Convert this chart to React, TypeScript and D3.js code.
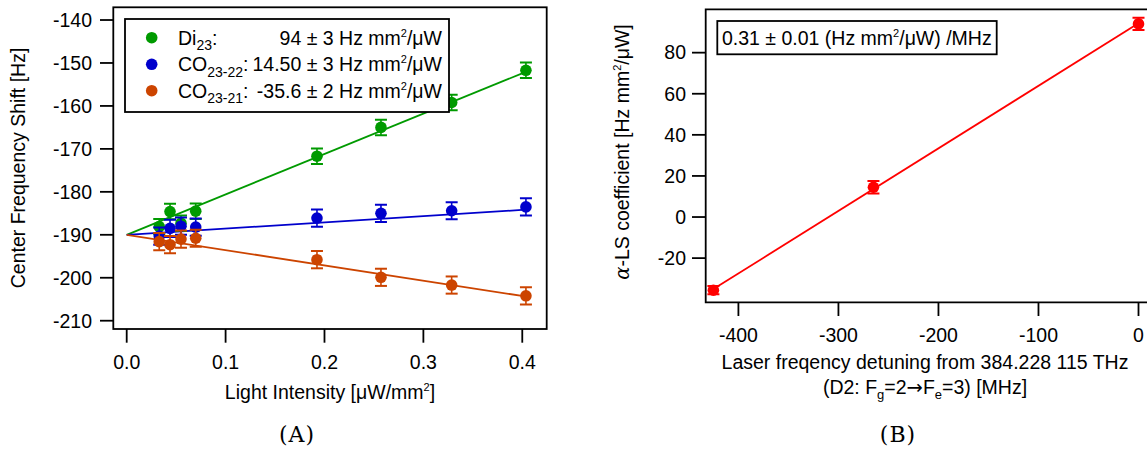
import React from "react";
import * as d3 from "d3";

// ---------- Panel A data ----------
const intensity = [0.0329, 0.0438, 0.0549, 0.0698, 0.1924, 0.2571, 0.3286, 0.4037];
const di23 = [-188.1, -184.6, -187.3, -184.5, -171.7, -165.0, -159.2, -151.7];
const di23Err = [1.8, 1.8, 1.8, 1.8, 1.8, 1.8, 1.8, 1.8];
const co2322 = [-190.3, -188.5, -188.0, -188.2, -186.1, -185.0, -184.4, -183.5];
const co2322Err = [2, 2, 2, 2, 2, 2, 2, 2];
const co2321 = [-191.6, -192.3, -191.0, -190.8, -195.8, -199.9, -201.7, -204.2];
const co2321Err = [2, 2, 2, 2, 2, 2, 2, 2];
const fitIntercept = -190;
const fitSlopes = [94, 14.5, -35.6];
const fitRange = [0, 0.403];
const xTicksA = [0, 0.1, 0.2, 0.3, 0.4];
const yTicksA = [-210, -200, -190, -180, -170, -160, -150, -140];

// ---------- Panel B data ----------
const detuning = [-425, -265, 0];
const alphaLS = [-35.6, 14.5, 94];
const alphaErr = [2, 3, 3];
const xTicksB = [-400, -300, -200, -100, 0];
const yTicksB = [-20, 0, 20, 40, 60, 80];

const GREEN = "#009a00";
const BLUE = "#0000cc";
const ORANGE = "#cc4400";
const RED = "#ff0000";
const FONT = "'Liberation Sans', Arial, Helvetica, sans-serif";
const FS = 19.5;

const xA = d3.scaleLinear().domain([-0.01355, 0.4247]).range([113.3, 546.7]);
const yA = d3.scaleLinear().domain([-211.93, -137.04]).range([329, 7.3]);
const xB = d3.scaleLinear().domain([-432.7, 9.5]).range([705.7, 1148]);
const yB = d3.scaleLinear().domain([-41.5, 101.1]).range([302.3, 9.3]);

function ErrPoint({ cx, cy, top, bot, color, r = 5.8, cap = 6 }) {
  return (
    <g>
      <line x1={cx} x2={cx} y1={top} y2={bot} stroke={color} strokeWidth={1.6} />
      <line x1={cx - cap} x2={cx + cap} y1={top} y2={top} stroke={color} strokeWidth={2} />
      <line x1={cx - cap} x2={cx + cap} y1={bot} y2={bot} stroke={color} strokeWidth={2} />
      <circle cx={cx} cy={cy} r={r} fill={color} />
    </g>
  );
}

export default function App() {
  const seriesA = [
    { v: di23, e: di23Err, c: GREEN, s: fitSlopes[0] },
    { v: co2322, e: co2322Err, c: BLUE, s: fitSlopes[1] },
    { v: co2321, e: co2321Err, c: ORANGE, s: fitSlopes[2] },
  ];
  const lineA = d3.line<number[]>().x((d) => xA(d[0])).y((d) => yA(d[1]));

  // least-squares fit for panel B
  const mx = d3.mean(detuning) as number;
  const my = d3.mean(alphaLS) as number;
  const sxy = d3.sum(detuning.map((x, i) => (x - mx) * (alphaLS[i] - my)));
  const sxx = d3.sum(detuning.map((x) => (x - mx) * (x - mx)));
  const slopeB = sxy / sxx;
  const interB = my - slopeB * mx;
  const lineB = d3.line<number[]>().x((d) => xB(d[0])).y((d) => yB(d[1]));
  const fitB = [detuning[0], detuning[detuning.length - 1]].map((x) => [x, interB + slopeB * x]);

  const legend = [
    { c: GREEN, name: "Di", sub: "23", val: "94 ± 3 Hz mm" },
    { c: BLUE, name: "CO", sub: "23-22", val: "14.50 ± 3 Hz mm" },
    { c: ORANGE, name: "CO", sub: "23-21", val: "-35.6 ± 2 Hz mm" },
  ];
  const legendY = [37.7, 64.3, 90.7];

  return (
    <div style={{ position: "absolute", left: 0, top: 0 }}>
      <svg width={1147} height={449} style={{ display: "block", background: "#fff" }} fontFamily={FONT}>
        <defs>
          <clipPath id="clipA">
            <rect x={113.3} y={7.3} width={433.4} height={321.7} />
          </clipPath>
          <clipPath id="clipB">
            <rect x={705.7} y={9.3} width={442.3} height={293} />
          </clipPath>
        </defs>
        {/* ===== Panel A ===== */}
        <g clipPath="url(#clipA)">
          {seriesA.map((s, k) => (
            <path
              key={"l" + k}
              d={lineA(fitRange.map((x) => [x, fitIntercept + s.s * x])) || ""}
              stroke={s.c}
              strokeWidth={1.8}
              fill="none"
            />
          ))}
          {seriesA.map((s, k) =>
            intensity.map((x, i) => (
              <ErrPoint
                key={k + "-" + i}
                cx={xA(x)}
                cy={yA(s.v[i])}
                top={yA(s.v[i] + s.e[i])}
                bot={yA(s.v[i] - s.e[i])}
                color={s.c}
              />
            ))
          )}
        </g>
        <rect x={113.3} y={7.3} width={433.4} height={321.7} fill="none" stroke="#000" strokeWidth={1.8} />
        {yTicksA.map((t) => (
          <g key={"ya" + t}>
            <line x1={100} x2={113.3} y1={yA(t)} y2={yA(t)} stroke="#000" strokeWidth={1.8} />
            <text x={92} y={yA(t) + 6.8} textAnchor="end" fontSize={FS}>
              {t}
            </text>
          </g>
        ))}
        {xTicksA.map((t) => (
          <g key={"xa" + t}>
            <line x1={xA(t)} x2={xA(t)} y1={329} y2={342.7} stroke="#000" strokeWidth={1.8} />
            <text x={xA(t)} y={368.5} textAnchor="middle" fontSize={FS}>
              {t.toFixed(1)}
            </text>
          </g>
        ))}
        <text transform="translate(25,168) rotate(-90)" textAnchor="middle" fontSize={FS}>
          Center Frequency Shift [Hz]
        </text>
        <text x={330} y={398.5} textAnchor="middle" fontSize={FS}>
          Light Intensity [μW/mm<tspan dy={-8} fontSize={11}>2</tspan>
          <tspan dy={8}>]</tspan>
        </text>
        {/* legend */}
        <rect x={125} y={19} width={324} height={93} fill="#fff" stroke="#000" strokeWidth={1.8} />
        {legend.map((L, i) => (
          <g key={"lg" + i}>
            <circle cx={151.7} cy={legendY[i]} r={5.8} fill={L.c} />
            <text x={178} y={legendY[i] + 7} fontSize={FS}>
              {L.name}
              <tspan dy={5.5} fontSize={14}>{L.sub}</tspan>
              <tspan dy={-5.5}>:</tspan>
            </text>
            <text x={442} y={legendY[i] + 7} fontSize={FS} textAnchor="end">
              {L.val}
              <tspan dy={-8} fontSize={11}>2</tspan>
              <tspan dy={8}>/μW</tspan>
            </text>
          </g>
        ))}
        <text x={297} y={441.5} textAnchor="middle" fontSize={22} fontFamily="'DejaVu Serif', serif" letterSpacing={1}>
          (A)
        </text>

        {/* ===== Panel B ===== */}
        <g clipPath="url(#clipB)">
          <path d={lineB(fitB) || ""} stroke={RED} strokeWidth={1.8} fill="none" />
          {detuning.map((x, i) => (
            <ErrPoint
              key={"b" + i}
              cx={xB(x)}
              cy={yB(alphaLS[i])}
              top={yB(alphaLS[i] + alphaErr[i])}
              bot={yB(alphaLS[i] - alphaErr[i])}
              color={RED}
            />
          ))}
        </g>
        <path d="M1148,9.3 H705.7 V302.3 H1148" fill="none" stroke="#000" strokeWidth={1.8} />
        {yTicksB.map((t) => (
          <g key={"yb" + t}>
            <line x1={692} x2={705.7} y1={yB(t)} y2={yB(t)} stroke="#000" strokeWidth={1.8} />
            <text x={686} y={yB(t) + 6.8} textAnchor="end" fontSize={FS}>
              {t}
            </text>
          </g>
        ))}
        {xTicksB.map((t) => (
          <g key={"xb" + t}>
            <line x1={xB(t)} x2={xB(t)} y1={302.3} y2={316} stroke="#000" strokeWidth={1.8} />
            <text x={xB(t)} y={341.5} textAnchor="middle" fontSize={FS}>
              {t}
            </text>
          </g>
        ))}
        <text transform="translate(629,152) rotate(-90)" textAnchor="middle" fontSize={FS}>
          <tspan fontFamily="'DejaVu Serif', serif" fontStyle="italic">α</tspan>-LS coefficient [Hz mm
          <tspan dy={-8} fontSize={11}>2</tspan>
          <tspan dy={8}>/μW]</tspan>
        </text>
        <text x={925} y={368.5} textAnchor="middle" fontSize={FS}>
          Laser freqency detuning from 384.228 115 THz
        </text>
        <text x={925} y={393.5} textAnchor="middle" fontSize={FS}>
          (D2: F<tspan dy={5} fontSize={13}>g</tspan>
          <tspan dy={-5}>=2</tspan>
          <tspan fontFamily="'DejaVu Sans', sans-serif">→</tspan>
          <tspan>F</tspan>
          <tspan dy={5} fontSize={13}>e</tspan>
          <tspan dy={-5}>=3) [MHz]</tspan>
        </text>
        <rect x={717.3} y={21} width={279.4} height={33.3} fill="#fff" stroke="#000" strokeWidth={1.8} />
        <text x={722} y={44.5} fontSize={FS}>
          0.31 ± 0.01 (Hz mm<tspan dy={-8} fontSize={11}>2</tspan>
          <tspan dy={8}>/μW) /MHz</tspan>
        </text>
        <text x={898} y={441.5} textAnchor="middle" fontSize={22} fontFamily="'DejaVu Serif', serif" letterSpacing={1}>
          (B)
        </text>
      </svg>
    </div>
  );
}
